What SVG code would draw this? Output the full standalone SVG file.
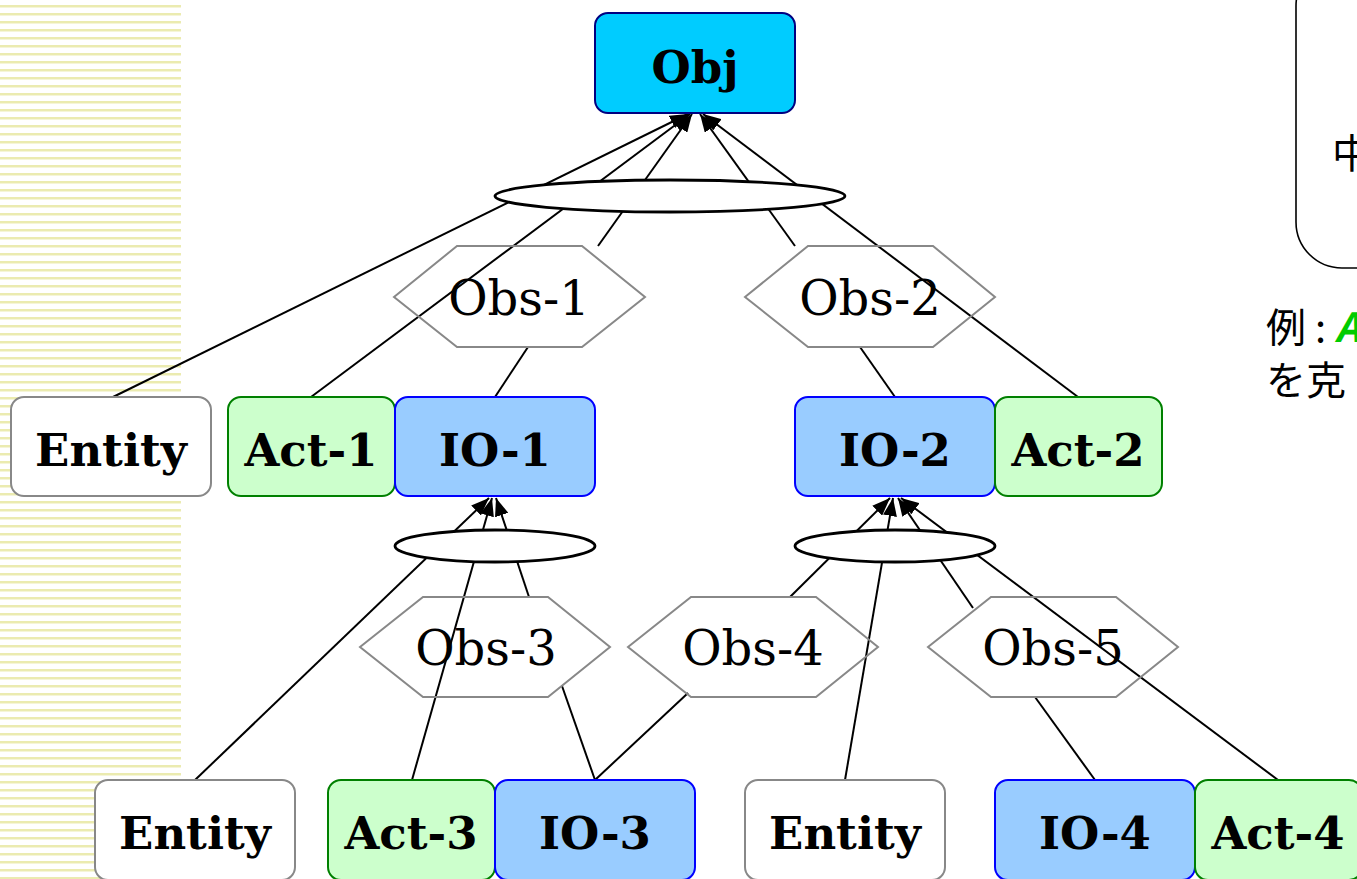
<svg xmlns="http://www.w3.org/2000/svg" width="1357" height="879" viewBox="0 0 1357 879">
  <defs>
    <pattern id="stripes" x="0" y="5" width="8" height="8" patternUnits="userSpaceOnUse">
      <rect x="0" y="0" width="8" height="2" fill="#ebebb0"/>
      <rect x="0" y="2" width="8" height="1" fill="#f5f5d8"/>
    </pattern>
    <marker id="arrow" viewBox="0 0 18 14" refX="18" refY="7" markerWidth="18" markerHeight="14" markerUnits="userSpaceOnUse" orient="auto">
      <path d="M0,0 L18,7 L0,14 Z" fill="#000"/>
    </marker>
    <style>
      .edge { stroke: #000; stroke-width: 2; fill: none; }
      .arr { marker-end: url(#arrow); }
      .join { fill: #fff; stroke: #000; stroke-width: 2.8; }
      .obs { fill: none; stroke: #888; stroke-width: 2; }
      .obs-t { font-family: "DejaVu Serif", "Liberation Serif", serif; font-size: 48px; text-anchor: middle; fill: #000; }
      .box { stroke-width: 2; }
      .entity { fill: #fff; stroke: #888; }
      .act { fill: #ccffcc; stroke: #008000; }
      .io { fill: #99ccff; stroke: #0000ff; }
      .obj { fill: #00ccff; stroke: #000080; }
      .lbl { font-family: "DejaVu Serif", "Liberation Serif", serif; font-weight: bold; font-size: 45px; text-anchor: middle; fill: #000; }
      .jp { font-family: "Noto Sans CJK JP", "Noto Sans", sans-serif; font-size: 40px; fill: #000; }
    </style>
  </defs>

  <!-- striped margin -->
  <rect x="0" y="0" width="181" height="879" fill="url(#stripes)"/>

  <!-- side note box -->
  <g id="note">
    <rect x="1296" y="-40" width="220" height="308" rx="46" ry="46" fill="#fff" stroke="#000" stroke-width="1.6"/>
    <text class="jp" x="1332" y="168">中</text>
    <text class="jp" x="1266" y="342">例 : <tspan fill="#00cc00" font-style="italic" font-weight="bold">A</tspan></text>
    <text class="jp" x="1266" y="395">を克</text>
  </g>

  <!-- connectors -->
  <g id="connectors">
    <!-- into Obj -->
    <line class="edge arr" x1="113" y1="397" x2="688" y2="114"/>
    <line class="edge arr" x1="311" y1="397" x2="690" y2="114"/>
    <line class="edge" x1="495" y1="397" x2="528" y2="347"/>
    <line class="edge arr" x1="598" y1="246" x2="692" y2="114"/>
    <line class="edge" x1="895" y1="397" x2="860" y2="347"/>
    <line class="edge arr" x1="795" y1="246" x2="700" y2="114"/>
    <line class="edge arr" x1="1078" y1="397" x2="703" y2="114"/>
    <!-- into IO-1 -->
    <line class="edge arr" x1="195" y1="780" x2="489" y2="498"/>
    <line class="edge arr" x1="412" y1="780" x2="492" y2="498"/>
    <line class="edge" x1="595" y1="780" x2="562" y2="686"/>
    <line class="edge arr" x1="529" y1="597" x2="496" y2="498"/>
    <!-- into IO-2 -->
    <line class="edge" x1="595" y1="780" x2="688" y2="693"/>
    <line class="edge arr" x1="790" y1="597" x2="890" y2="498"/>
    <line class="edge arr" x1="845" y1="780" x2="893" y2="498"/>
    <line class="edge arr" x1="973" y1="608" x2="898" y2="498"/>
    <line class="edge" x1="1095" y1="780" x2="1035" y2="697"/>
    <line class="edge arr" x1="1278" y1="780" x2="901" y2="498"/>
  </g>

  <!-- AND joins -->
  <g id="join-obj"><ellipse class="join" cx="670" cy="196" rx="175" ry="16"/></g>
  <g id="join-io1"><ellipse class="join" cx="495" cy="546" rx="100" ry="16"/></g>
  <g id="join-io2"><ellipse class="join" cx="895" cy="546" rx="100" ry="16"/></g>

  <!-- observations -->
  <g id="obs-1">
    <polygon class="obs" points="394,297 457,246 582,246 645,297 582,347 457,347"/>
    <text class="obs-t" x="519" y="315">Obs-1</text>
  </g>
  <g id="obs-2">
    <polygon class="obs" points="745,297 808,246 933,246 995,297 933,347 808,347"/>
    <text class="obs-t" x="870" y="315">Obs-2</text>
  </g>
  <g id="obs-3">
    <polygon class="obs" points="360,647 423,597 548,597 610,647 548,697 423,697"/>
    <text class="obs-t" x="486" y="665">Obs-3</text>
  </g>
  <g id="obs-4">
    <polygon class="obs" points="628,647 691,597 816,597 878,647 816,697 691,697"/>
    <text class="obs-t" x="753" y="665">Obs-4</text>
  </g>
  <g id="obs-5">
    <polygon class="obs" points="928,647 991,597 1116,597 1178,647 1116,697 991,697"/>
    <text class="obs-t" x="1053" y="665">Obs-5</text>
  </g>

  <!-- goal -->
  <g id="obj">
    <rect class="box obj" x="595" y="13" width="200" height="100" rx="13"/>
    <text class="lbl" x="695" y="83" font-size="51">Obj</text>
  </g>

  <!-- upper row -->
  <g id="entity-1">
    <rect class="box entity" x="11" y="397" width="200" height="99" rx="13"/>
    <text class="lbl" x="111" y="466">Entity</text>
  </g>
  <g id="act-1">
    <rect class="box act" x="228" y="397" width="167" height="99" rx="13"/>
    <text class="lbl" x="311" y="466">Act-1</text>
  </g>
  <g id="io-1">
    <rect class="box io" x="395" y="397" width="200" height="99" rx="13"/>
    <text class="lbl" x="495" y="466">IO-1</text>
  </g>
  <g id="io-2">
    <rect class="box io" x="795" y="397" width="200" height="99" rx="13"/>
    <text class="lbl" x="895" y="466">IO-2</text>
  </g>
  <g id="act-2">
    <rect class="box act" x="995" y="397" width="167" height="99" rx="13"/>
    <text class="lbl" x="1078" y="466">Act-2</text>
  </g>

  <!-- lower row -->
  <g id="entity-2">
    <rect class="box entity" x="95" y="780" width="200" height="100" rx="13"/>
    <text class="lbl" x="195" y="849">Entity</text>
  </g>
  <g id="act-3">
    <rect class="box act" x="328" y="780" width="167" height="100" rx="13"/>
    <text class="lbl" x="411" y="849">Act-3</text>
  </g>
  <g id="io-3">
    <rect class="box io" x="495" y="780" width="200" height="100" rx="13"/>
    <text class="lbl" x="595" y="849">IO-3</text>
  </g>
  <g id="entity-3">
    <rect class="box entity" x="745" y="780" width="200" height="100" rx="13"/>
    <text class="lbl" x="845" y="849">Entity</text>
  </g>
  <g id="io-4">
    <rect class="box io" x="995" y="780" width="200" height="100" rx="13"/>
    <text class="lbl" x="1095" y="849">IO-4</text>
  </g>
  <g id="act-4">
    <rect class="box act" x="1195" y="780" width="167" height="100" rx="13"/>
    <text class="lbl" x="1278" y="849">Act-4</text>
  </g>
</svg>
